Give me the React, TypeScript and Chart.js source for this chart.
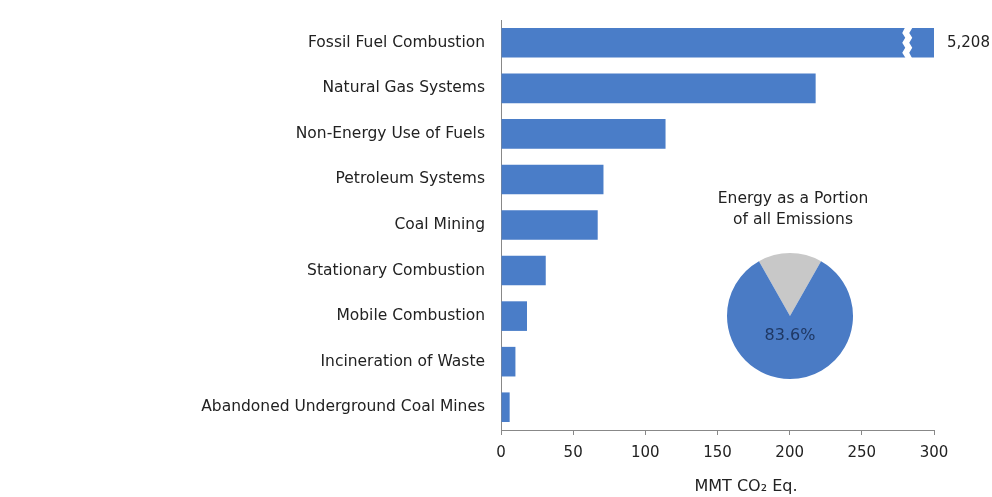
import React, { useEffect, useRef } from "react";
import { Chart, registerables } from "chart.js";

Chart.register(...registerables);

const categories = [
  "Fossil Fuel Combustion",
  "Natural Gas Systems",
  "Non-Energy Use of Fuels",
  "Petroleum Systems",
  "Coal Mining",
  "Stationary Combustion",
  "Mobile Combustion",
  "Incineration of Waste",
  "Abandoned Underground Coal Mines",
];
const values = [5208, 218, 114, 71, 67, 31, 18, 10, 6];
const xTicks = [0, 50, 100, 150, 200, 250, 300];
const axisMax = 300;
const pieLabels = ["Other", "Energy"];
const pieValues = [16.4, 83.6];

const FONT = "'DejaVu Sans', Verdana, sans-serif";
const BLUE = "#4A7DC8";
const GRAY = "#C8C8C8";

export default function App() {
  const barRef = useRef<HTMLCanvasElement>(null);
  const pieRef = useRef<HTMLCanvasElement>(null);

  useEffect(() => {
    const overlay = {
      id: "overlay",
      afterDatasetsDraw(chart: any) {
        const ctx = chart.ctx;
        const x = chart.scales.x;
        const meta = chart.getDatasetMeta(0);
        const bar = meta.data[0];
        const top = bar.y - bar.height / 2;
        const bot = bar.y + bar.height / 2;
        // break gap
        const gx = x.getPixelForValue(278);
        ctx.save();
        ctx.fillStyle = "#ffffff";
        ctx.beginPath();
        const n = 3;
        const h = (bot - top) / n;
        ctx.moveTo(gx + 3, top - 1);
        for (let i = 0; i < n; i++) {
          ctx.lineTo(gx, top + h * (i + 0.5));
          ctx.lineTo(gx + 3, top + h * (i + 1));
        }
        ctx.lineTo(gx + 3, bot + 1);
        ctx.lineTo(gx + 10, bot + 1);
        for (let i = n - 1; i >= 0; i--) {
          ctx.lineTo(gx + 7, top + h * (i + 0.5));
          ctx.lineTo(gx + 10, top + h * i);
        }
        ctx.lineTo(gx + 10, top - 1);
        ctx.closePath();
        ctx.fill();
        // value label
        ctx.fillStyle = "#222";
        ctx.font = `15px ${FONT}`;
        ctx.textBaseline = "middle";
        ctx.textAlign = "left";
        ctx.fillText(values[0].toLocaleString("en-US"), x.right + 13, bar.y);
        // axis title
        ctx.textAlign = "center";
        ctx.font = `16px ${FONT}`;
        ctx.fillText("MMT CO\u2082 Eq.", 746, 487);
        // pie title
        ctx.font = `15.5px ${FONT}`;
        ctx.fillText("Energy as a Portion", 793, 199);
        ctx.fillText("of all Emissions", 793, 220);
        ctx.restore();
      },
    };

    const bar = new Chart(barRef.current!, {
      type: "bar",
      data: {
        labels: categories,
        datasets: [
          {
            data: values,
            backgroundColor: BLUE,
            categoryPercentage: 1,
            barPercentage: 0.65,
          },
        ],
      },
      options: {
        indexAxis: "y",
        animation: false,
        responsive: false,
        layout: { padding: { top: 20, right: 58, left: 0, bottom: 0 } },
        plugins: { legend: { display: false }, tooltip: { enabled: false } },
        scales: {
          x: {
            min: 0,
            max: axisMax,
            afterBuildTicks(scale: any) {
              scale.ticks = xTicks.map((v) => ({ value: v }));
            },
            afterFit(scale: any) {
              scale.height = 67;
              scale.paddingLeft = 0;
              scale.paddingRight = 0;
            },
            grid: { drawOnChartArea: false, drawTicks: true, tickLength: 5, color: "#888" },
            border: { display: true, color: "#888" },
            ticks: { color: "#222", font: { family: FONT, size: 15 }, padding: 9 },
          },
          y: {
            afterFit(scale: any) {
              scale.width = 501;
              scale.paddingTop = 0;
              scale.paddingBottom = 0;
            },
            grid: { display: false, drawTicks: false },
            border: { display: true, color: "#888" },
            ticks: { color: "#222", font: { family: FONT, size: 15.5 }, padding: 16 },
          },
        },
      },
      plugins: [overlay],
    });

    const pieText = {
      id: "pieText",
      afterDatasetsDraw(chart: any) {
        const ctx = chart.ctx;
        const a = chart.chartArea;
        const cx = (a.left + a.right) / 2;
        const cy = (a.top + a.bottom) / 2;
        ctx.save();
        ctx.fillStyle = "#1F3864";
        ctx.font = `16px ${FONT}`;
        ctx.textAlign = "center";
        ctx.textBaseline = "middle";
        ctx.fillText(pieValues[1].toFixed(1) + "%", cx, cy + 20);
        ctx.restore();
      },
    };

    const pie = new Chart(pieRef.current!, {
      type: "pie",
      data: {
        labels: pieLabels,
        datasets: [
          {
            data: pieValues,
            backgroundColor: [GRAY, "#4A7BC5"],
            borderWidth: 0,
          },
        ],
      },
      options: {
        animation: false,
        responsive: false,
        rotation: (-pieValues[0] / 100) * 180,
        radius: 63,
        layout: { padding: 0 },
        plugins: { legend: { display: false }, tooltip: { enabled: false } },
      },
      plugins: [pieText],
    });

    return () => {
      bar.destroy();
      pie.destroy();
    };
  }, []);

  return (
    <div style={{ position: "fixed", left: 0, top: 0, width: 992, height: 497, background: "#fff" }}>
      <canvas ref={barRef} width={992} height={497} style={{ position: "absolute", left: 0, top: 0 }} />
      <canvas ref={pieRef} width={160} height={160} style={{ position: "absolute", left: 710, top: 236 }} />
    </div>
  );
}
